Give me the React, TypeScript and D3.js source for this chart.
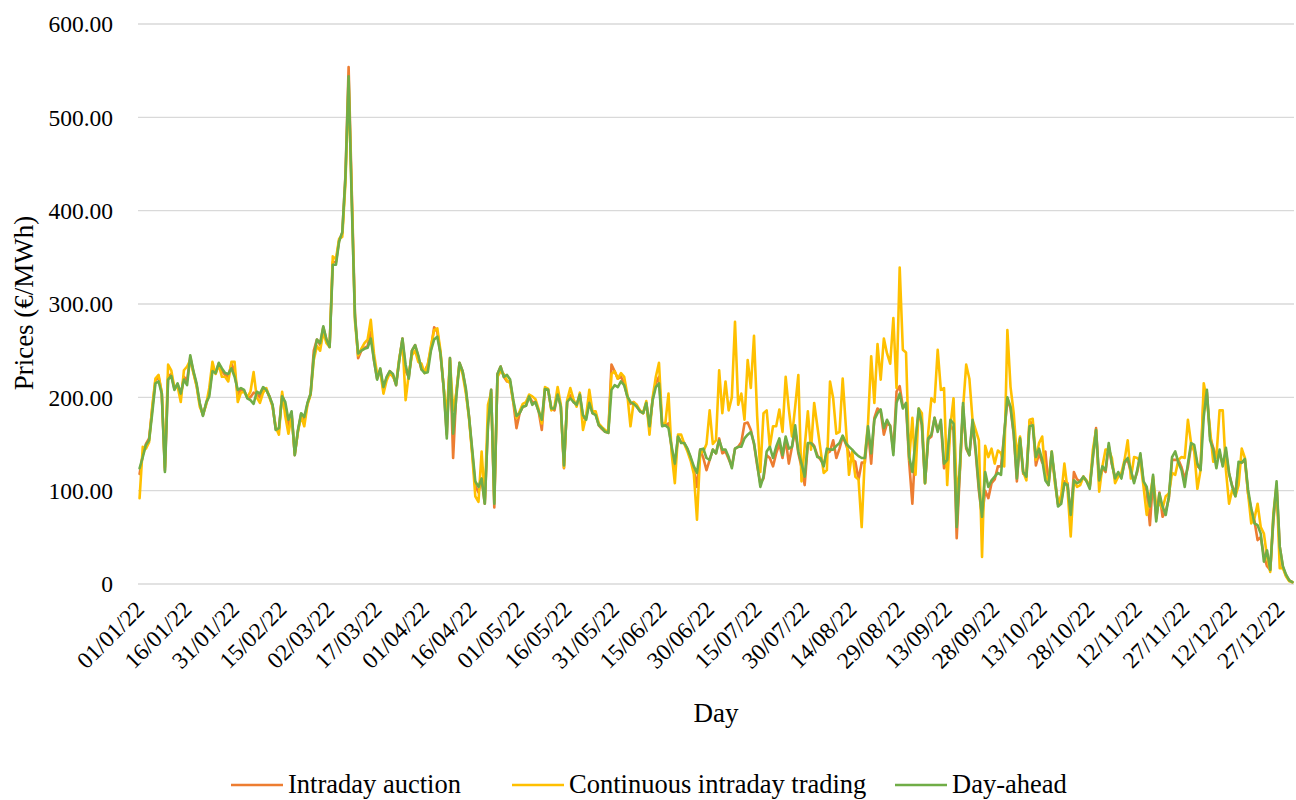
import React, { useEffect, useRef } from 'react';
import * as d3 from 'd3';

// daily prices 01/01/22 .. 31/12/22 (€/MWh)
const dayAhead = [
  124, 136, 149, 154, 183, 215, 217, 204, 120, 219,
  223, 208, 215, 204, 219, 213, 245, 228, 215, 194,
  180, 194, 201, 228, 226, 237, 231, 226, 225, 231,
  222, 208, 210, 208, 199, 197, 193, 206, 204, 211,
  208, 201, 192, 165, 167, 201, 195, 176, 185, 138,
  165, 183, 179, 194, 204, 244, 262, 258, 276, 262,
  254, 342, 342, 367, 377, 436, 544, 408, 286, 247,
  250, 252, 253, 263, 240, 219, 231, 211, 222, 228,
  225, 213, 240, 263, 235, 220, 250, 256, 245, 230,
  226, 227, 250, 262, 265, 247, 211, 156, 242, 161,
  200, 237, 228, 210, 180, 145, 110, 104, 113, 86,
  169, 208, 86, 225, 233, 222, 224, 219, 197, 180,
  183, 190, 191, 201, 192, 195, 185, 176, 209, 208,
  188, 188, 203, 190, 127, 195, 199, 195, 192, 203,
  181, 176, 194, 183, 181, 170, 167, 163, 162, 208,
  213, 211, 217, 213, 201, 195, 193, 190, 185, 183,
  194, 169, 197, 211, 215, 169, 170, 167, 147, 129,
  158, 151, 151, 145, 136, 126, 119, 144, 145, 135,
  133, 144, 140, 154, 144, 144, 136, 124, 145, 147,
  147, 156, 160, 163, 151, 129, 104, 115, 142, 147,
  135, 147, 156, 138, 158, 145, 147, 170, 142, 129,
  115, 151, 151, 147, 136, 135, 126, 145, 144, 144,
  148, 151, 159, 151, 147, 144, 140, 137, 135, 135,
  169, 140, 176, 183, 187, 167, 176, 169, 138, 194,
  204, 188, 194, 136, 120, 154, 188, 172, 108, 156,
  160, 178, 163, 176, 129, 133, 176, 172, 61, 126,
  194, 147, 138, 176, 144, 104, 72, 120, 104, 111,
  115, 119, 117, 161, 200, 190, 162, 113, 156, 120,
  115, 169, 170, 136, 145, 133, 111, 106, 142, 113,
  83, 86, 108, 106, 74, 111, 108, 110, 115, 110,
  102, 136, 165, 111, 126, 122, 151, 129, 113, 120,
  113, 131, 135, 122, 108, 122, 140, 110, 104, 83,
  117, 67, 97, 83, 74, 94, 136, 142, 130, 122,
  104, 129, 151, 149, 129, 122, 179, 208, 154, 144,
  124, 144, 126, 146, 119, 104, 94, 131, 130, 134,
  101, 81, 65, 63, 54, 24, 36, 15, 72, 110,
  40, 19, 10, 4, 2,
];

const continuousIntraday = [
  92, 147, 145, 152, 190, 220, 224, 205, 125, 235,
  229, 210, 212, 195, 229, 233, 240, 226, 212, 190,
  182, 192, 210, 238, 225, 235, 222, 222, 217, 238,
  238, 195, 205, 206, 200, 206, 227, 200, 194, 205,
  210, 200, 190, 168, 160, 206, 180, 161, 180, 140,
  163, 180, 169, 192, 203, 240, 255, 250, 270, 258,
  254, 351, 348, 370, 372, 430, 535, 415, 282, 245,
  252, 258, 262, 283, 247, 225, 228, 204, 218, 226,
  222, 215, 242, 260, 197, 225, 245, 250, 238, 236,
  226, 235, 255, 272, 274, 250, 211, 180, 240, 186,
  205, 235, 225, 205, 178, 140, 94, 88, 142, 90,
  192, 205, 90, 222, 228, 225, 218, 215, 195, 178,
  185, 193, 195, 203, 201, 198, 187, 172, 211, 209,
  186, 190, 211, 192, 125, 197, 210, 198, 190, 205,
  165, 180, 208, 185, 185, 172, 168, 165, 163, 225,
  228, 220, 226, 222, 203, 169, 195, 192, 186, 183,
  196, 160, 200, 222, 237, 172, 172, 204, 140, 108,
  160, 160, 150, 142, 132, 118, 69, 140, 142, 150,
  186, 150, 154, 229, 183, 217, 186, 200, 281, 192,
  204, 176, 240, 210, 266, 180, 120, 183, 186, 147,
  169, 169, 187, 163, 222, 187, 158, 190, 224, 110,
  147, 185, 144, 194, 169, 144, 119, 122, 217, 199,
  161, 163, 220, 169, 117, 142, 115, 112, 61, 137,
  172, 244, 194, 257, 219, 263, 247, 236, 285, 210,
  339, 251, 248, 133, 178, 117, 188, 183, 108, 162,
  199, 195, 251, 208, 210, 106, 169, 199, 97, 122,
  188, 235, 220, 176, 165, 154, 29, 148, 136, 145,
  129, 143, 140, 126, 272, 211, 183, 136, 158, 120,
  111, 176, 177, 133, 151, 158, 117, 110, 142, 108,
  86, 95, 129, 101, 51, 111, 104, 106, 115, 111,
  104, 144, 165, 99, 126, 144, 144, 135, 108, 115,
  119, 133, 154, 113, 136, 135, 131, 104, 74, 94,
  115, 83, 86, 81, 94, 97, 119, 117, 133, 136,
  135, 176, 151, 142, 102, 122, 215, 197, 165, 131,
  136, 186, 186, 122, 86, 101, 94, 106, 145, 135,
  97, 65, 70, 86, 61, 54, 29, 13, 76, 106,
  17, 17, 8, 3, 2,
];

const intradayAuction = [
  118, 138, 150, 156, 188, 218, 222, 205, 122, 222,
  225, 209, 214, 202, 222, 218, 243, 227, 213, 193,
  181, 193, 204, 232, 226, 236, 228, 224, 222, 236,
  228, 203, 208, 207, 200, 200, 205, 204, 200, 208,
  208, 201, 191, 166, 165, 203, 192, 170, 183, 138,
  164, 182, 175, 193, 204, 250, 262, 256, 275, 262,
  254, 345, 345, 368, 376, 438, 554, 420, 290, 242,
  250, 253, 255, 270, 240, 220, 230, 208, 221, 228,
  224, 213, 240, 263, 228, 222, 250, 256, 243, 230,
  228, 235, 252, 275, 270, 247, 211, 160, 242, 135,
  205, 237, 228, 208, 180, 142, 105, 98, 113, 86,
  172, 208, 82, 225, 233, 222, 217, 217, 195, 167,
  183, 190, 191, 201, 195, 195, 185, 165, 209, 208,
  188, 186, 205, 190, 124, 195, 202, 195, 192, 203,
  178, 178, 198, 183, 182, 170, 166, 163, 162, 235,
  228, 220, 222, 215, 201, 193, 195, 190, 185, 183,
  194, 167, 198, 215, 222, 170, 170, 172, 145, 125,
  158, 152, 151, 144, 135, 122, 104, 144, 135, 122,
  133, 144, 140, 156, 140, 142, 134, 126, 145, 147,
  152, 172, 173, 165, 150, 127, 108, 113, 138, 135,
  126, 140, 150, 135, 155, 129, 147, 165, 140, 125,
  106, 150, 152, 148, 138, 133, 128, 140, 142, 154,
  135, 145, 158, 150, 140, 133, 131, 112, 130, 130,
  165, 129, 178, 188, 185, 160, 172, 170, 142, 206,
  212, 190, 192, 130, 86, 150, 185, 170, 108, 155,
  158, 178, 165, 172, 124, 130, 170, 165, 49, 120,
  190, 145, 138, 172, 140, 100, 72, 100, 92, 108,
  112, 126, 126, 160, 198, 188, 160, 110, 155, 118,
  117, 174, 172, 127, 140, 130, 142, 106, 138, 113,
  85, 88, 110, 108, 70, 120, 112, 110, 115, 110,
  104, 136, 167, 110, 124, 120, 148, 128, 115, 118,
  115, 130, 133, 120, 110, 120, 138, 108, 100, 63,
  112, 70, 98, 72, 78, 92, 133, 133, 133, 125,
  113, 125, 148, 146, 126, 124, 204, 205, 158, 146,
  136, 140, 128, 142, 118, 105, 97, 128, 130, 132,
  97, 80, 68, 47, 50, 30, 19, 15, 68, 104,
  40, 18, 9, 4, 2,
];

// every 15th day is labelled
const tickLabels = [
  '01/01/22', '16/01/22', '31/01/22', '15/02/22', '02/03/22', '17/03/22',
  '01/04/22', '16/04/22', '01/05/22', '16/05/22', '31/05/22', '15/06/22',
  '30/06/22', '15/07/22', '30/07/22', '14/08/22', '29/08/22', '13/09/22',
  '28/09/22', '13/10/22', '28/10/22', '12/11/22', '27/11/22', '12/12/22',
  '27/12/22',
];
const tickStep = 15;
const yTicks = [0, 100, 200, 300, 400, 500, 600];

const series = [
  { name: 'Intraday auction', values: intradayAuction, color: '#ED7D31' },
  { name: 'Continuous intraday trading', values: continuousIntraday, color: '#FFC000' },
  { name: 'Day-ahead', values: dayAhead, color: '#70AD47' },
];

const FONT = "'Liberation Serif', 'Times New Roman', serif";

const App: React.FC = () => {
  const ref = useRef<SVGSVGElement | null>(null);

  useEffect(() => {
    const width = 1296;
    const height = 800;
    const plot = { left: 138, right: 1294, top: 24, bottom: 584 };
    const nDays = dayAhead.length;

    const svg = d3.select(ref.current);
    svg.selectAll('*').remove();
    svg.attr('width', width).attr('height', height);

    const x = d3.scaleLinear().domain([0, nDays]).range([plot.left, plot.right]);
    const y = d3.scaleLinear().domain([0, 600]).range([plot.bottom, plot.top]);

    // horizontal gridlines
    svg
      .append('g')
      .selectAll('line')
      .data(yTicks)
      .join('line')
      .attr('x1', plot.left)
      .attr('x2', plot.right)
      .attr('y1', d => y(d))
      .attr('y2', d => y(d))
      .attr('stroke', '#d9d9d9')
      .attr('stroke-width', 1.3);

    // y tick labels
    svg
      .append('g')
      .selectAll('text')
      .data(yTicks)
      .join('text')
      .attr('x', 113)
      .attr('y', d => y(d))
      .attr('dy', '0.35em')
      .attr('text-anchor', 'end')
      .attr('font-family', FONT)
      .attr('font-size', 23.5)
      .attr('fill', '#000')
      .text(d => (d === 0 ? '0' : d3.format('.2f')(d)));

    // x tick labels, rotated
    svg
      .append('g')
      .selectAll('text')
      .data(tickLabels)
      .join('text')
      .attr('transform', (d, i) => `translate(${x(i * tickStep + 0.5) + 6},${611}) rotate(-45)`)
      .attr('text-anchor', 'end')
      .attr('font-family', FONT)
      .attr('font-size', 23.5)
      .attr('fill', '#000')
      .text(d => d);

    // series lines
    const line = d3
      .line<number>()
      .x((d, i) => x(i + 0.5))
      .y(d => y(d));

    series.forEach(s => {
      svg
        .append('path')
        .datum(s.values)
        .attr('fill', 'none')
        .attr('stroke', s.color)
        .attr('stroke-width', 2.6)
        .attr('stroke-linejoin', 'round')
        .attr('stroke-linecap', 'round')
        .attr('d', line);
    });

    // axis titles
    svg
      .append('text')
      .attr('x', 716)
      .attr('y', 722)
      .attr('text-anchor', 'middle')
      .attr('font-family', FONT)
      .attr('font-size', 27)
      .text('Day');

    svg
      .append('text')
      .attr('transform', 'translate(33,303) rotate(-90)')
      .attr('text-anchor', 'middle')
      .attr('font-family', FONT)
      .attr('font-size', 27)
      .text('Prices (€/MWh)');

    // legend
    const legendX = [231, 512, 895];
    const legend = svg
      .append('g')
      .selectAll('g')
      .data(series)
      .join('g')
      .attr('transform', (d, i) => `translate(${legendX[i]},785)`);
    legend
      .append('line')
      .attr('x1', 0)
      .attr('x2', 52)
      .attr('stroke', d => d.color)
      .attr('stroke-width', 2.6);
    legend
      .append('text')
      .attr('x', 57)
      .attr('dy', '0.32em')
      .attr('font-family', FONT)
      .attr('font-size', 26.5)
      .text(d => d.name);
  }, []);

  return <svg ref={ref} style={{ position: 'absolute', left: 0, top: 0 }} />;
};

export default App;
